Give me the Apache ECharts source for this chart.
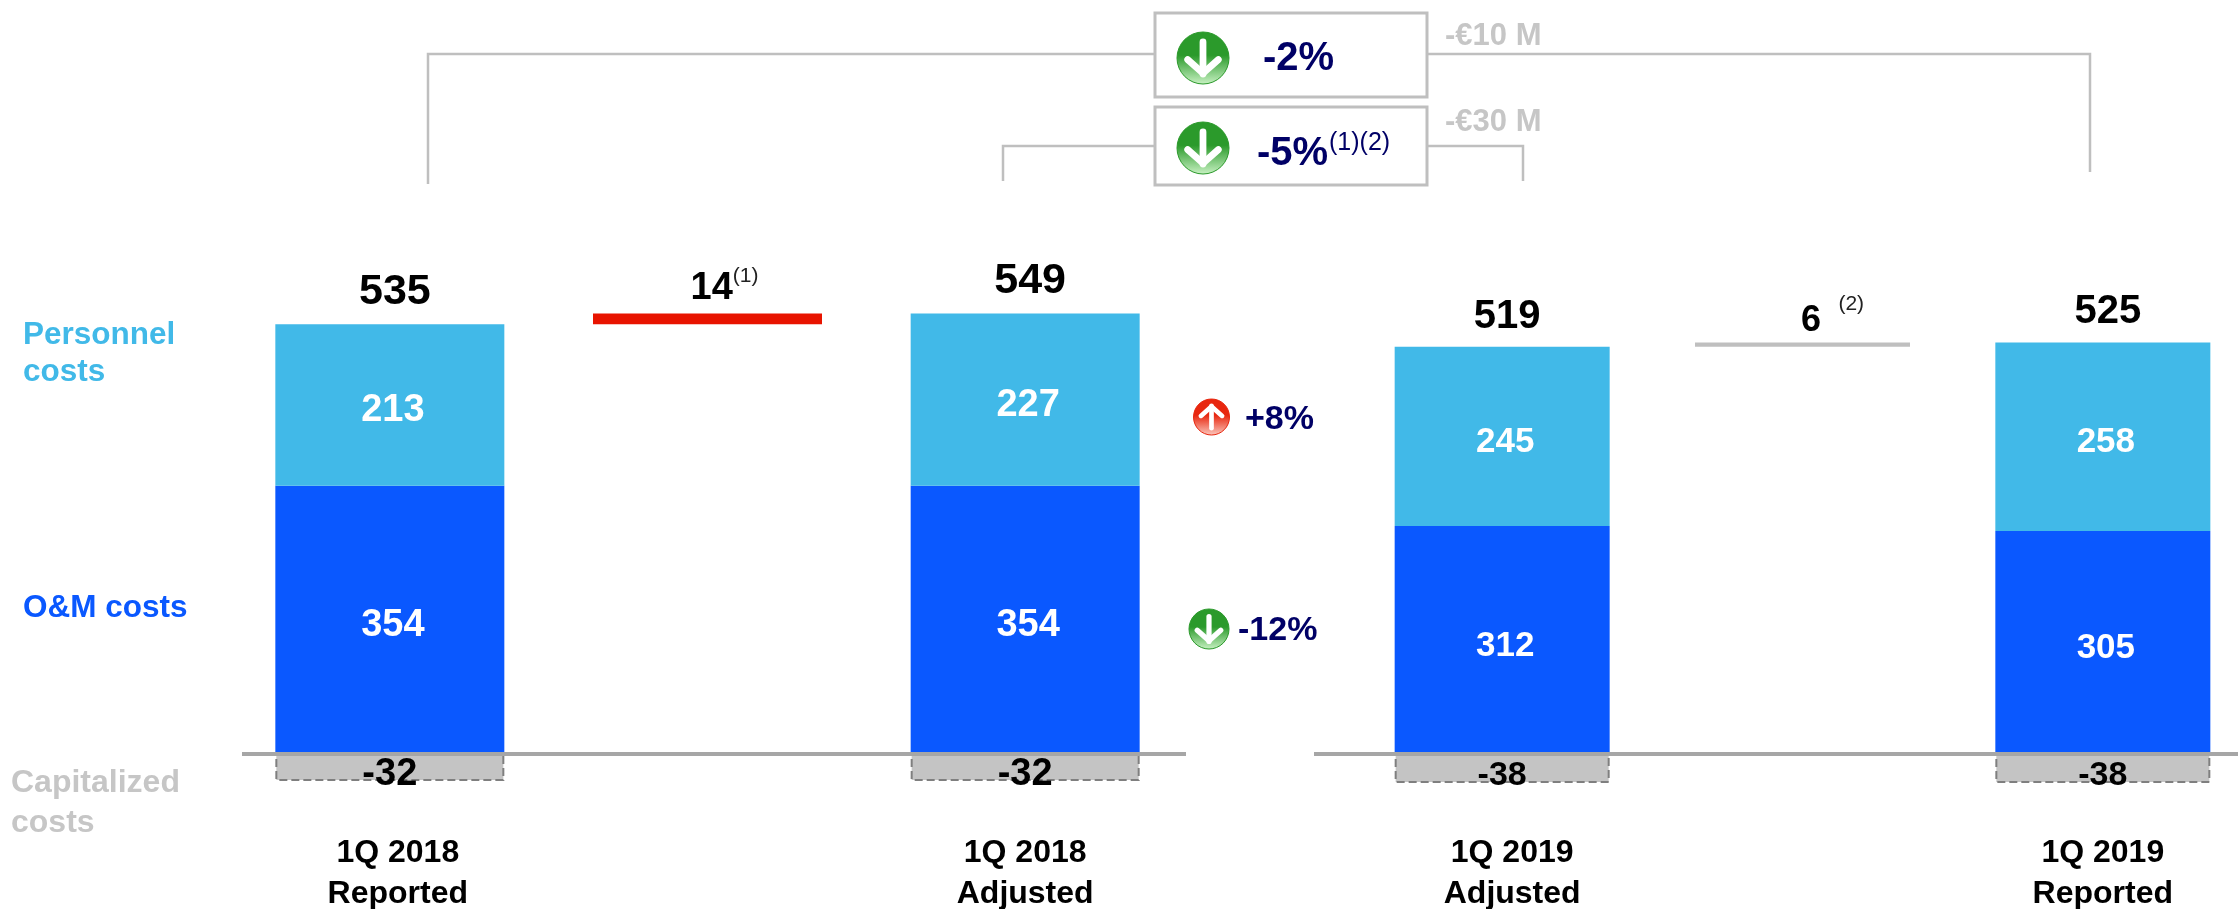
<!DOCTYPE html>
<html>
<head>
<meta charset="utf-8">
<title>Costs bridge</title>
<script src="https://cdn.jsdelivr.net/npm/echarts@6/dist/echarts.min.js"></script>
<style>
  html, body { margin: 0; padding: 0; background: #fff; }
  #main { width: 2238px; height: 909px; }
</style>
</head>
<body>
<div id="main"></div>
<script>
// left panel: 1Q 2018 reported -> adjusted
const leftCategories = ['1Q 2018\nReported', '', '1Q 2018\nAdjusted']
const leftOm = [354, null, 354]
const leftPersonnel = [213, null, 227]
const leftCapitalized = [-32, null, -32]
const leftTotals = [535, null, 549]
const leftBridge = [null, 14, null]

// right panel: 1Q 2019 adjusted -> reported
const rightCategories = ['1Q 2019\nAdjusted', '', '1Q 2019\nReported']
const rightOm = [312, null, 305]
const rightPersonnel = [245, null, 258]
const rightCapitalized = [-38, null, -38]
const rightTotals = [519, null, 525]
const rightBridge = [null, 6, null]

const FONT = '"Liberation Sans", Arial, sans-serif'
const SKY = '#41b9e8'
const BLUE = '#0a58ff'
const GREY_TEXT = '#c6c6c6'
const LINE = '#bfbfbf'
const NAVY = '#000066'

const GRID_TOP = 148
const GRID_HEIGHT = 682
const BELOW_ZERO = 76 // px between the zero line and the bottom of the grid

// value range that gives a panel the wanted px-per-unit with zero on the baseline
function yRange(pxPerUnit) {
  return {
    type: 'value', show: false, splitLine: { show: false },
    min: -BELOW_ZERO / pxPerUnit,
    max: (GRID_HEIGHT - BELOW_ZERO) / pxPerUnit
  }
}

function panelSeries(idx, p) {
  const common = { type: 'bar', xAxisIndex: idx, yAxisIndex: idx * 2, barWidth: p.barWidth, barGap: '-100%', silent: true }
  const stack = 'cost' + idx
  const inside = { show: true, position: 'inside', color: '#fff', fontFamily: FONT, fontWeight: 'bold', fontSize: p.valueSize, offset: [3, 6] }
  const tops = p.om.map((v, i) => v === null ? null : v + p.personnel[i])
  const base = p.bridge.map((v, i) => v === null ? null : tops[i - 1])
  return [
    { ...common, name: 'O&M costs', stack, data: p.om, itemStyle: { color: BLUE }, label: inside },
    { ...common, name: 'Personnel costs', stack, data: p.personnel, itemStyle: { color: SKY }, label: inside },
    { ...common, name: 'base', stack, data: base, itemStyle: { color: 'transparent' } },
    {
      ...common, name: 'bridge', stack, data: p.bridge, barWidth: p.bridgeWidth,
      itemStyle: { color: p.bridgeColor },
      label: {
        show: true, position: 'top', distance: p.bridgeDist, offset: p.bridgeOffset, fontFamily: FONT,
        formatter: o => `{b|${o.value}}{s|${p.bridgeNote}}`,
        rich: {
          b: { fontFamily: FONT, fontWeight: 'bold', fontSize: p.bridgeSize, color: '#000' },
          s: { fontFamily: FONT, fontSize: 21, color: '#222', padding: [0, 0, p.notePad, 0] }
        }
      }
    },
    {
      ...common, name: 'Capitalized costs', yAxisIndex: idx * 2 + 1, data: p.capitalized,
      itemStyle: { color: '#c4c4c4', borderColor: '#7f7f7f', borderWidth: 2, borderType: 'dashed' },
      label: {
        show: true, position: 'inside', offset: [0, 7], color: '#000',
        fontFamily: FONT, fontWeight: 'bold', fontSize: p.capSize
      }
    },
    {
      type: 'scatter', xAxisIndex: idx, yAxisIndex: idx * 2, symbolSize: 0, silent: true, data: tops,
      itemStyle: { opacity: 1 },
      label: {
        show: true, position: 'top', distance: p.totalDist, offset: [5, 0], color: '#000',
        fontFamily: FONT, fontWeight: 'bold', fontSize: p.totalSize,
        formatter: o => p.totals[o.dataIndex]
      }
    }
  ]
}

const series = [
  ...panelSeries(0, {
    om: leftOm, personnel: leftPersonnel, capitalized: leftCapitalized, totals: leftTotals, bridge: leftBridge,
    barWidth: 229, bridgeWidth: 227, bridgeColor: '#e81400', bridgeNote: '(1)', bridgeDist: 3, bridgeOffset: [17, 0], notePad: 24, bridgeSize: 38,
    valueSize: 38, capSize: 38, totalSize: 43, totalDist: 11
  }),
  ...panelSeries(1, {
    om: rightOm, personnel: rightPersonnel, capitalized: rightCapitalized, totals: rightTotals, bridge: rightBridge,
    barWidth: 215, bridgeWidth: 214, bridgeColor: '#bfbfbf', bridgeNote: '   (2)', bridgeDist: -6, bridgeOffset: [30, 0], notePad: 34, bridgeSize: 36,
    valueSize: 35, capSize: 34, totalSize: 40, totalDist: 10
  })
]

// shift: sideways nudge of each category label, doubled because padding on a centred label moves it by half
function catAxis(gridIndex, data, shift) {
  return {
    type: 'category', gridIndex,
    data: data.map((value, i) => ({ value, textStyle: { padding: [0, 0, 0, shift[i] * 2] } })),
    axisLine: { show: false }, axisTick: { show: false },
    axisLabel: {
      interval: 0, margin: 3, color: '#000', fontFamily: FONT, fontWeight: 'bold',
      fontSize: 32, lineHeight: 41
    }
  }
}

// annotation helpers
function txt(x, y, text, fontSize, color, extra) {
  return {
    type: 'text', x, y, z: 100, silent: true,
    style: { text, fontFamily: FONT, fontWeight: 'bold', fontSize, fill: color, verticalAlign: 'middle', ...extra }
  }
}
function poly(points, stroke, lineWidth) {
  return { type: 'polyline', z: 90, silent: true, shape: { points }, style: { stroke, lineWidth, fill: null } }
}
function box(x, y, w, h) {
  return { type: 'rect', z: 91, silent: true, shape: { x, y, width: w, height: h }, style: { fill: '#fff', stroke: LINE, lineWidth: 3 } }
}
function arrowIcon(cx, cy, r, up, top, bottom) {
  const d = up ? -1 : 1
  const s = r * 0.62
  return [
    {
      type: 'circle', z: 95, silent: true, shape: { cx, cy, r },
      style: {
        stroke: top, lineWidth: 1,
        fill: new echarts.graphic.LinearGradient(0, 0, 0, 1, [
          { offset: 0, color: top }, { offset: 0.45, color: top }, { offset: 1, color: bottom }
        ])
      }
    },
    poly([[cx, cy - d * s], [cx, cy + d * s]], '#fff', r * 0.26),
    poly([[cx - s * 0.95, cy + d * s * 0.1], [cx, cy + d * s * 0.95], [cx + s * 0.95, cy + d * s * 0.1]], '#fff', r * 0.26)
  ].map(e => (e.type === 'polyline' ? { ...e, z: 96, style: { ...e.style, lineCap: 'round', lineJoin: 'round' } } : e))
}

const GREEN_A = '#2b9a2b', GREEN_B = '#c9f2c4', RED_A = '#e8270f', RED_B = '#fbc9bf'

const graphicElements = [
  // baselines
  poly([[242, 754], [1186, 754]], '#a6a6a6', 4),
  poly([[1314, 754], [2238, 754]], '#a6a6a6', 4),
  // brackets
  poly([[428, 184], [428, 54], [1154, 54]], LINE, 2.5),
  poly([[1427, 54], [2090, 54], [2090, 172]], LINE, 2.5),
  poly([[1003, 181], [1003, 146], [1154, 146]], LINE, 2.5),
  poly([[1427, 146], [1523, 146], [1523, 181]], LINE, 2.5),
  box(1155, 13, 272, 84),
  box(1155, 107, 272, 78),
  ...arrowIcon(1203, 58, 26, false, GREEN_A, GREEN_B),
  ...arrowIcon(1203, 148, 26, false, GREEN_A, GREEN_B),
  ...arrowIcon(1211.5, 417, 18, true, RED_A, RED_B),
  ...arrowIcon(1209, 629, 20, false, GREEN_A, GREEN_B),
  txt(1263, 59, '-2%', 40, NAVY),
  txt(1257, 154, '-5%', 40, NAVY),
  txt(1329, 143, '(1)(2)', 25, NAVY, { fontWeight: 'normal' }),
  txt(1445, 36, '-€10 M', 31, GREY_TEXT),
  txt(1445, 122, '-€30 M', 31, GREY_TEXT),
  txt(1245, 420, '+8%', 34, NAVY),
  txt(1238, 631, '-12%', 34, NAVY),
  // row names
  txt(23, 335, 'Personnel', 31.5, SKY),
  txt(23, 372, 'costs', 31.5, SKY),
  txt(23, 608, 'O&M costs', 31.5, BLUE),
  txt(11, 783, 'Capitalized', 32, GREY_TEXT),
  txt(11, 823, 'costs', 32, GREY_TEXT)
]

const chart = echarts.init(document.getElementById('main'))
chart.setOption({
  animation: false,
  backgroundColor: '#fff',
  textStyle: { fontFamily: FONT },
  grid: [
    { left: 231, width: 953, top: GRID_TOP, height: GRID_HEIGHT, outerBoundsMode: 'none' },
    { left: 1352, width: 901, top: GRID_TOP, height: GRID_HEIGHT, outerBoundsMode: 'none' }
  ],
  xAxis: [catAxis(0, leftCategories, [8, 0, 0]), catAxis(1, rightCategories, [10, 0, 0])],
  yAxis: [
    { ...yRange(0.758), gridIndex: 0 },
    { ...yRange(0.844), gridIndex: 0 },
    { ...yRange(0.731), gridIndex: 1 },
    { ...yRange(0.763), gridIndex: 1 }
  ],
  series,
  graphic: { elements: graphicElements }
})
</script>
</body>
</html>
